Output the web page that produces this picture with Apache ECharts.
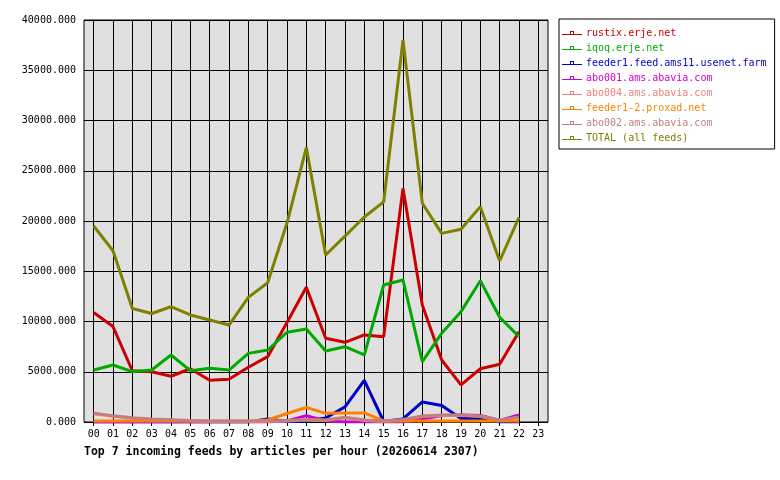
<!DOCTYPE html>
<html>
<head>
<meta charset="utf-8">
<script src="https://cdn.jsdelivr.net/npm/echarts@6/dist/echarts.min.js"></script>
<style>
  html, body { margin: 0; padding: 0; background: #fff; }
  #main { width: 780px; height: 480px; }
</style>
</head>
<body>
<div id="main"></div>
<script>
// hours on the x axis
const hours = ['00','01','02','03','04','05','06','07','08','09','10','11',
  '12','13','14','15','16','17','18','19','20','21','22','23'];

const feedNames = ['rustix.erje.net', 'iqoq.erje.net', 'feeder1.feed.ams11.usenet.farm',
  'abo001.ams.abavia.com', 'abo004.ams.abavia.com', 'feeder1-2.proxad.net',
  'abo002.ams.abavia.com', 'TOTAL (all feeds)'];
const feedColors = ['#cc0000', '#00aa00', '#0000cc', '#cc00cc', '#f08080', '#ff8000', '#c08080', '#808000'];

// articles per hour, 00..22
const rustix = [10900, 9500, 5100, 5000, 4550, 5300, 4150, 4250, 5450, 6500, 9900, 13400,
  8330, 7930, 8660, 8490, 23250, 11640, 6170, 3700, 5300, 5740, 8990];
const iqoq = [5170, 5670, 5010, 5170, 6670, 5110, 5340, 5170, 6830, 7160, 8930, 9250,
  7060, 7490, 6670, 13630, 14130, 6000, 8820, 10980, 14060, 10420, 8490];
const feeder1 = [0, 0, 0, 0, 0, 0, 0, 0, 0, 300, 50, 100,
  400, 1500, 4150, 50, 300, 2000, 1650, 350, 350, 0, 0];
const abo001 = [0, 0, 0, 0, 0, 0, 0, 0, 0, 0, 100, 630,
  100, 0, 0, 0, 0, 300, 650, 700, 650, 150, 700];
const abo004 = [820, 580, 380, 250, 180, 100, 60, 60, 60, 60, 100, 200,
  150, 420, 150, 60, 200, 550, 650, 650, 550, 150, 450];
const proxad = [100, 100, 100, 100, 100, 100, 100, 100, 100, 200, 850, 1450,
  860, 900, 900, 100, 100, 100, 100, 100, 100, 100, 100];
const abo002 = [870, 630, 430, 300, 230, 150, 100, 100, 100, 100, 150, 250,
  200, 470, 200, 100, 250, 600, 700, 700, 600, 200, 500];
const total = [19500, 17040, 11300, 10800, 11470, 10650, 10150, 9650, 12400, 13860, 19800, 27300,
  16620, 18500, 20400, 21900, 38000, 21760, 18770, 19170, 21430, 16020, 20360];

const feedData = [rustix, iqoq, feeder1, abo001, abo004, proxad, abo002, total];

const mono = 'DejaVu Sans Mono';
const chart = echarts.init(document.getElementById('main'));

const series = feedNames.map((name, i) => ({
  name: name,
  type: 'line',
  xAxisIndex: 1,
  yAxisIndex: 1,
  data: feedData[i],
  showSymbol: false,
  symbol: 'none',
  lineStyle: { width: 3, color: feedColors[i] },
  itemStyle: { color: feedColors[i] },
  animation: false
}));

chart.setOption({
  animation: false,
  title: {
    text: 'Top 7 incoming feeds by articles per hour (20260614 2307)',
    left: 84,
    top: 446,
    padding: 0,
    textStyle: { fontFamily: mono, fontSize: 11.5, fontWeight: 'bold', color: '#000' }
  },
  legend: {
    orient: 'vertical',
    left: 559,
    top: 19,
    padding: [8, 8, 5, 3],
    backgroundColor: '#fff',
    borderColor: '#000',
    borderWidth: 1,
    borderRadius: 0,
    itemWidth: 20,
    itemHeight: 4,
    itemGap: 3,
    icon: 'path://M0,3H20V4H0Z M8,0H12V4H11V1H9V4H8Z',
    selectedMode: false,
    textStyle: { fontFamily: mono, fontSize: 10, lineHeight: 12, padding: [0, 0, 0, -1] },
    data: feedNames.map((n, i) => ({ name: n, textStyle: { color: feedColors[i] } }))
  },
  grid: [
    { left: 84, top: 20, width: 464, height: 402, show: true,
      backgroundColor: '#e0e0e0', borderColor: '#000', borderWidth: 1 },
    { left: 84 + 464 / 48, top: 20, width: 464 * 23 / 24, height: 402 }
  ],
  xAxis: [
    { gridIndex: 0, type: 'value', min: -0.5, max: 23.5, show: false },
    {
      gridIndex: 1, type: 'category', data: hours, boundaryGap: false,
      axisLine: { show: false },
      axisTick: { show: true, length: 4, lineStyle: { color: '#000' } },
      axisLabel: { color: '#000', fontFamily: mono, fontSize: 10, margin: 7, interval: 0 },
      splitLine: { show: true, lineStyle: { color: '#000', width: 1 } }
    }
  ],
  yAxis: [
    {
      gridIndex: 0, type: 'value', min: 0, max: 40000, interval: 5000,
      axisLine: { show: true, lineStyle: { color: '#000' } },
      axisTick: { show: true, length: 4, lineStyle: { color: '#000' } },
      axisLabel: { color: '#000', fontFamily: mono, fontSize: 10, margin: 8,
        formatter: v => v.toFixed(3) },
      splitLine: { show: true, lineStyle: { color: '#000', width: 1 } }
    },
    { gridIndex: 1, type: 'value', min: 0, max: 40000, show: false }
  ],
  series: series
});
</script>
</body>
</html>
